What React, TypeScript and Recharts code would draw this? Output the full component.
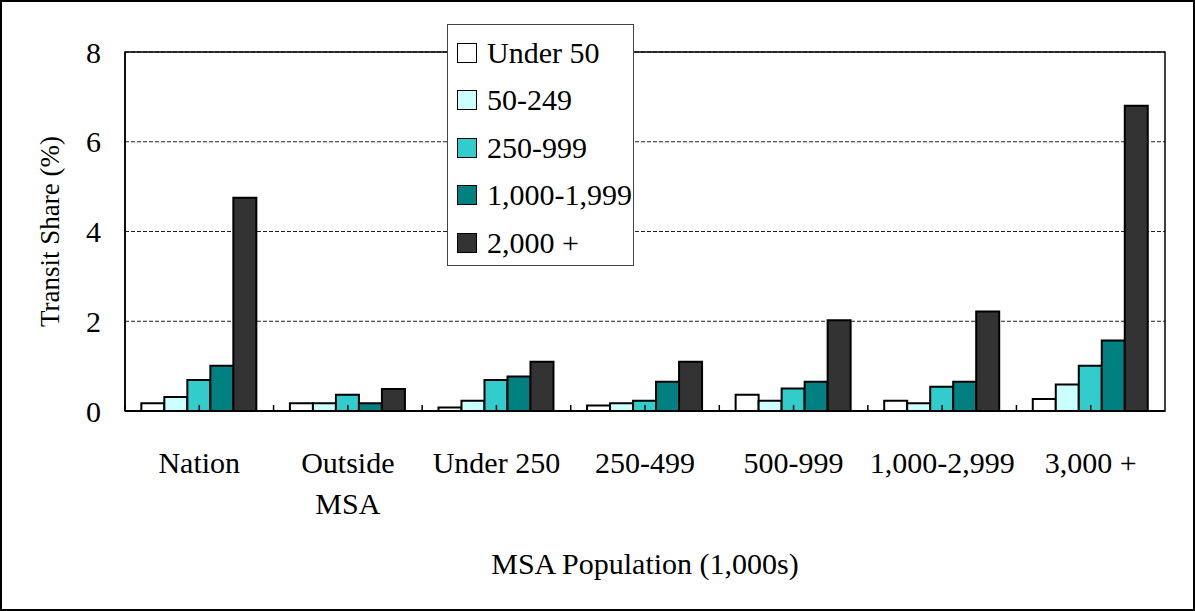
import { BarChart, Bar, XAxis, YAxis, CartesianGrid, Legend, ReferenceArea } from 'recharts'

const categories = ['Nation', 'Outside MSA', 'Under 250', '250-499', '500-999', '1,000-2,999', '3,000 +']
const seriesNames = ['Under 50', '50-249', '250-999', '1,000-1,999', '2,000 +']
const under50 = [0.17, 0.17, 0.08, 0.12, 0.36, 0.23, 0.27]
const from50to249 = [0.31, 0.17, 0.23, 0.17, 0.23, 0.17, 0.59]
const from250to999 = [0.69, 0.36, 0.69, 0.23, 0.5, 0.54, 1.01]
const from1000to1999 = [1.01, 0.17, 0.77, 0.65, 0.65, 0.65, 1.57]
const over2000 = [4.75, 0.49, 1.1, 1.1, 2.02, 2.22, 6.8]
const yTicks = [0, 2, 4, 6, 8]

const colors = ['#ffffff', '#ccffff', '#33cccc', '#008080', '#333333']
const keys = ['s0', 's1', 's2', 's3', 's4']

const data = categories.map((name, i) => ({
  name,
  s0: under50[i],
  s1: from50to249[i],
  s2: from250to999[i],
  s3: from1000to1999[i],
  s4: over2000[i],
}))

const W = 1195
const H = 611
const margin = { top: 52, right: 30, left: 0, bottom: 0 }
const yAxisWidth = 125
const step = (W - yAxisWidth - margin.right) / categories.length
const font = '"Liberation Serif", "Times New Roman", serif'
const fs = 30

// break a label into lines that fit inside one category slot
function wrap(label: string, maxWidth: number): string[] {
  const ctx = document.createElement('canvas').getContext('2d')
  if (!ctx) return [label]
  ctx.font = `${fs}px ${font}`
  const lines: string[] = []
  let cur = ''
  for (const w of label.split(' ')) {
    const next = cur ? cur + ' ' + w : w
    if (cur && ctx.measureText(next).width > maxWidth) {
      lines.push(cur)
      cur = w
    } else {
      cur = next
    }
  }
  lines.push(cur)
  return lines
}

function CategoryTick({ x, y, payload }: any) {
  const lines = wrap(String(payload.value), step - 4)
  return (
    <g>
      <line x1={x} x2={x} y1={y} y2={y - 6} stroke="#000" strokeWidth={1.5} />
      <line x1={x - step / 2} x2={x - step / 2} y1={y} y2={y - 6} stroke="#000" strokeWidth={1.5} />
      <text x={x} y={y + 62} textAnchor="middle" fontSize={fs} fontFamily={font} fill="#000">
        {lines.map((l, i) => (
          <tspan key={i} x={x} dy={i === 0 ? 0 : 41}>
            {l}
          </tspan>
        ))}
      </text>
    </g>
  )
}

function LegendBox() {
  return (
    <div
      style={{
        background: '#fff',
        border: '1.5px solid #444',
        boxSizing: 'border-box',
        width: 187,
        height: 242,
        padding: '4px 0 0 9px',
        fontFamily: font,
        fontSize: fs,
        color: '#000',
      }}
    >
      {seriesNames.map((n, i) => (
        <div key={n} style={{ display: 'flex', alignItems: 'center', height: 47.5 }}>
          <span
            style={{
              width: 20,
              height: 20,
              boxSizing: 'border-box',
              background: colors[i],
              border: '1.5px solid #000',
              marginRight: 10,
              flex: 'none',
            }}
          />
          <span style={{ whiteSpace: 'nowrap' }}>{n}</span>
        </div>
      ))}
    </div>
  )
}

export default function App() {
  return (
    <div style={{ position: 'absolute', left: 0, top: 0, width: W, height: H, fontFamily: font, background: '#fff' }}>
      <BarChart width={W} height={H} data={data} margin={margin} barCategoryGap="11%" barGap={0}>
        <CartesianGrid vertical={false} stroke="#222" strokeDasharray="4 2" />
        <XAxis
          dataKey="name"
          height={200}
          tickLine={false}
          tickSize={0}
          tickMargin={0}
          tick={<CategoryTick />}
          axisLine={{ stroke: '#000', strokeWidth: 2 }}
          interval={0}
          label={{ value: 'MSA Population (1,000s)', position: 'insideBottom', offset: 37, fontSize: fs, fill: '#000' }}
        />
        <YAxis
          width={yAxisWidth}
          domain={[0, 8]}
          ticks={yTicks}
          tickLine={false}
          tickSize={0}
          tickMargin={24}
          tick={{ fontSize: fs, fill: '#000' }}
          axisLine={{ stroke: '#000', strokeWidth: 1.5 }}
          label={{
            content: ({ viewBox }: any) => {
              const cx = viewBox.x + 50
              const cy = viewBox.y + viewBox.height / 2
              return (
                <text
                  x={cx}
                  y={cy}
                  transform={`rotate(-90 ${cx} ${cy})`}
                  textAnchor="middle"
                  dominantBaseline="central"
                  fontSize={27}
                  fill="#000"
                >
                  Transit Share (%)
                </text>
              )
            },
          }}
        />
        {keys.map((k, i) => (
          <Bar
            key={k}
            dataKey={k}
            name={seriesNames[i]}
            fill={colors[i]}
            stroke="#000"
            strokeWidth={2}
            isAnimationActive={false}
          />
        ))}
        <ReferenceArea y1={0} y2={8} fill="none" stroke="#000" strokeWidth={1.5} ifOverflow="visible" />
        <Legend
          layout="vertical"
          align="center"
          verticalAlign="middle"
          content={<LegendBox />}
          wrapperStyle={{ left: 447, top: 24, width: 187, height: 242 }}
        />
      </BarChart>
      <div
        style={{
          position: 'absolute',
          left: 0,
          top: 0,
          width: W,
          height: H,
          boxSizing: 'border-box',
          border: '2px solid #000',
          pointerEvents: 'none',
        }}
      />
    </div>
  )
}
